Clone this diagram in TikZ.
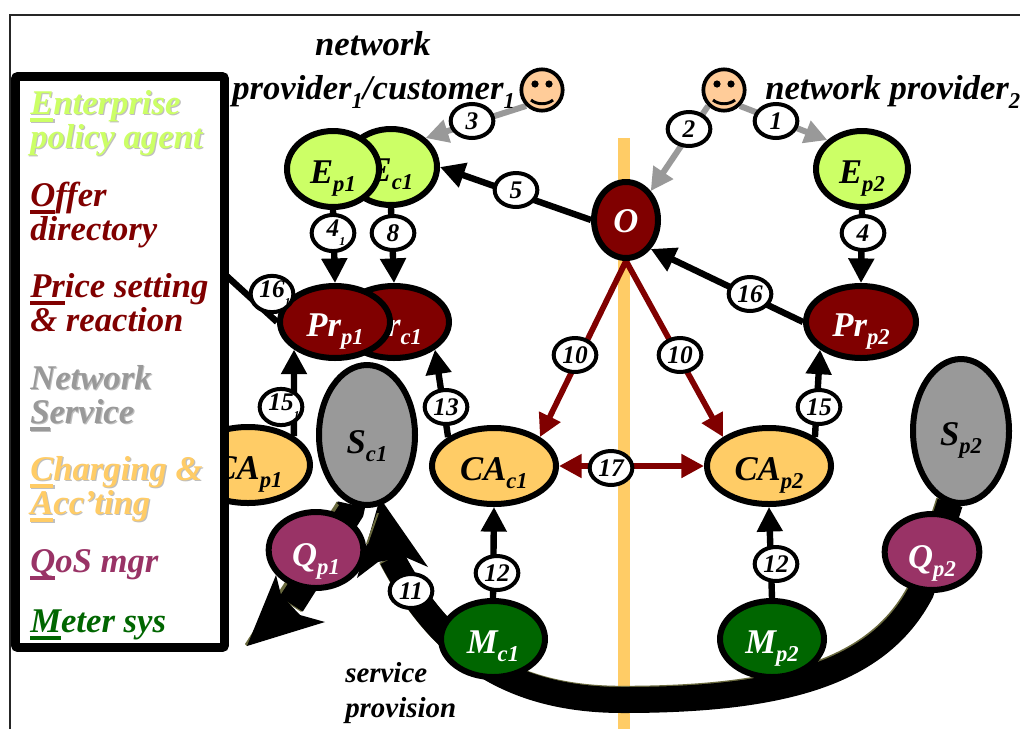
\documentclass[tikz,border=0pt]{standalone}
\usepackage{fontspec}
\setmainfont{Liberation Serif}
\usetikzlibrary{shapes.geometric,arrows.meta}
\pgfdeclarelayer{bg}\pgfdeclarelayer{top}\pgfsetlayers{bg,main,top}
\definecolor{cE}{HTML}{CCFF66}
\definecolor{cP}{HTML}{800000}
\definecolor{cS}{HTML}{999999}
\definecolor{cC}{HTML}{FFCC66}
\definecolor{cQ}{HTML}{993366}
\definecolor{cM}{HTML}{006600}
\definecolor{cOl}{HTML}{6B6B3F}
\definecolor{cSk}{HTML}{FFCC99}
\newcommand\lab[2]{\raisebox{-10.5pt}{#1\raisebox{-6pt}{\fontsize{17}{17}\selectfont #2}}}
\newcommand\tsub[1]{\raisebox{-0.28em}{\fontsize{17}{17}\selectfont #1}}
\newcommand\numsub[2]{#1\rlap{\raisebox{-0.35em}{\fontsize{9}{9}\selectfont #2}}}
\newcommand\ulc[1]{\setbox0=\hbox{#1}\rlap{\rule[-6pt]{\wd0}{3pt}}\box0 }
\newcommand\shad[1]{\rlap{\kern0.9pt\raisebox{-0.9pt}{\color{black!25}#1}}#1}
\tikzset{
  x=0.75pt,y=-0.75pt,
  ell/.style={ellipse,draw=black,line width=4.5pt,inner sep=0pt,outer sep=2.2pt,text height=0pt,text depth=0pt,font=\fontsize{26}{26}\selectfont\bfseries\itshape},
  ne/.style={ell,fill=cE,minimum width=69pt,minimum height=57pt},
  npr/.style={ell,fill=cP,text=white,minimum width=82.5pt,minimum height=54pt},
  no/.style={ell,fill=cP,text=white,minimum width=48pt,minimum height=57pt},
  ns/.style={ell,fill=cS,minimum width=72pt,minimum height=105pt},
  nc/.style={ell,fill=cC,minimum width=93pt,minimum height=57pt},
  nq/.style={ell,fill=cQ,text=white,minimum width=71pt,minimum height=57pt},
  nm/.style={ell,fill=cM,text=white,minimum width=78pt,minimum height=57pt},
  num/.style={ellipse,draw=black,fill=white,line width=3pt,inner sep=0pt,minimum width=32pt,minimum height=25.5pt,font=\fontsize{19}{20}\selectfont\bfseries\itshape},
  smile/.style={circle,draw=black,fill=cSk,line width=2.8pt,inner sep=0pt,minimum size=31pt},
  edgeb/.style={draw=black,line width=4.8pt,-{Triangle[length=18.5pt,width=18.5pt]}},
  edgeg/.style={draw=cS,line width=4.5pt,-{Triangle[length=17pt,width=17pt]}},
  edger/.style={draw=cP,line width=4.3pt,-{Triangle[length=17pt,width=17pt]}},
  edgerr/.style={draw=cP,line width=4.3pt,{Triangle[length=17pt,width=17pt]}-{Triangle[length=17pt,width=17pt]}},
  plain/.style={draw=black,line width=4.8pt},
  fat/.style={draw=black,line width=19.5pt},
  fatb/.style={draw=black,line width=21pt},
  fatol/.style={draw=cOl,line width=19.5pt},
  fatolb/.style={draw=cOl,line width=21pt},
  txt/.style={inner sep=0pt,font=\fontsize{26}{25.5}\selectfont\bfseries\itshape},
  leg/.style={txt,anchor=base west,align=left},
}
\begin{document}
\begin{tikzpicture}
\useasboundingbox (0,0) rectangle (1020,729);
% nodes
\node[ne] (ec1) at (391,167) {\lab{E}{c1}};
\node[ne] (ep1) at (333,169) {\lab{E}{p1}};
\node[ne] (ep2) at (862,169) {\lab{E}{p2}};
\node[npr] (prc1) at (394,322) {\lab{Pr}{c1}};
\node[npr] (prp1) at (335,322) {\lab{Pr}{p1}};
\node[npr] (prp2) at (861,322) {\lab{Pr}{p2}};
\node[no] (o) at (626,220) {\raisebox{-9pt}{O}};
\node[nc] (cap1) at (248,465) {\lab{CA}{p1}};
\node[nc] (cac1) at (494,466) {\lab{CA}{c1}};
\node[nc] (cap2) at (769,466) {\lab{CA}{p2}};
\node[ns] (sc1) at (367,435) {\raisebox{-3.5pt}{\lab{S}{c1}}};
\node[ns,minimum height=108pt] (sp2) at (961,431) {\lab{S}{p2}};
\node[nq] (qp1) at (316,550) {\raisebox{-2pt}{\lab{Q}{p1}}};
\node[nq] (qp2) at (932,552) {\raisebox{-2pt}{\lab{Q}{p2}}};
\node[nm] (mc1) at (493,639) {\lab{M}{c1}};
\node[nm] (mp2) at (772,639) {\lab{M}{p2}};
% smileys
\node[smile] (sm1) at (542,90) {};
\node[smile] (sm2) at (724,90) {};
\foreach \s in {sm1,sm2}{
  \fill[black] ([shift={(-7,-6)}]\s.center) circle[radius=2.7pt];
  \fill[black] ([shift={(7,-6)}]\s.center) circle[radius=2.7pt];
  \draw[black,line width=2.2pt] ([shift={(-11,10)}]\s.center) .. controls ([shift={(-5,15)}]\s.center) and ([shift={(5,15)}]\s.center) .. ([shift={(11,10)}]\s.center);
}
% number labels
\node[num] (n3) at (472,121) {3};
\node[num] (n5) at (516,190) {5};
\node[num] (n4a) at (333,233) {\numsub{4}{1}};
\node[num] (n8) at (393,233) {8};
\node[num] (n1) at (776,121) {1};
\node[num] (n2) at (689,129) {2};
\node[num] (n16b) at (750,294) {16};
\node[num] (n4b) at (863,233) {4};
\node[num] (n16a) at (272,294) {\numsub{16}{1}};
\node[num] (n15a) at (281,407) {\numsub{15}{1}};
\node[num] (n13) at (446,407) {13};
\node[num] (n11) at (411,591) {11};
\node[num] (n12a) at (497,573) {12};
\node[num] (n12b) at (776,564) {12};
\node[num] (n15b) at (819,407) {15};
\node[num] (n17) at (611,468) {17};
\node[num] (n10a) at (575,355) {10};
\node[num] (n10b) at (680,355) {10};
% texts
\node[txt,anchor=base] (t1) at (373,55) {network};
\node[txt,anchor=base west] (t2) at (232,99) {provider\tsub{1}/customer\tsub{1}};
\node[txt,anchor=base west] (t3) at (765,99) {network provider\tsub{2}};
\node[inner sep=0pt,anchor=base west,align=left,font=\fontsize{21.7}{26}\selectfont\bfseries\itshape] (t4) at (345,717) {service\\provision};
% coordinates
\coordinate (hid) at (150,206);
\coordinate (a1) at (350,511);
\coordinate (b1) at (291,604);
\coordinate (b2) at (392,558);
\coordinate (k1) at (921,592);
\coordinate (k2) at (623,700);
% edges
\begin{pgfonlayer}{bg}
\fill[white] (0,0) rectangle (1020,729);
\fill[cC] (618,138) rectangle (630,729);
\draw[edgeg] (sm1.south west) -- (ec1.north east);
\draw[edgeg] (sm2.south east) -- (ep2.north west);
\draw[edgeg] (sm2.south west) -- (o.north east);
\draw[edgeb] (o.west) -- (ec1.east);
\draw[edgeb] (prp2.west) -- (o.south east);
\draw[edgeb] (ep1.south) -- (prp1.north);
\draw[edgeb] (ec1.south) -- (prc1.north);
\draw[edgeb] (ep2.south) -- (prp2.north);
\draw[edgeb] (cap1.north east) -- (prp1.south west);
\draw[edgeb] (cap2.north east) -- (prp2.south west);
\draw[edgeb] (cac1.north west) -- (prc1.south east);
\draw[edgeb] (mc1.north) -- (cac1.south);
\draw[edgeb] (mp2.north) -- (cap2.south);
\draw[edger] (o.south) -- (cac1.north east);
\draw[edger] (o.south) -- (cap2.north west);
\draw[edgerr] (cac1.east) -- (cap2.west);
\draw[plain] (prp1.west) -- (hid);
% fat arrow to lower left
\draw[fatolb,transform canvas={xshift=-1.2pt,yshift=-0.3pt}] (sc1) -- (a1) -- (b1);
\draw[fatb] (sc1) -- (a1) -- (b1);
\fill[cOl] (336,503) -- (245,644) -- (247,646) -- (339,505) -- cycle;
\fill[black] (247,646) -- (276,575) -- (281,595) -- (300,615) -- (325,622) -- cycle;
% fat arrow 11
\draw[fatol,transform canvas={xshift=-0.9pt,yshift=0.9pt}] (sp2) -- (950,503) -- (k1) .. controls (880,670) and (790,700) .. (k2) .. controls (520,700) and (445,660) .. (b2);
\draw[fat] (sp2) -- (950,503) -- (k1) .. controls (880,670) and (790,700) .. (k2) .. controls (520,700) and (445,660) .. (b2);
\fill[black] (380,498) -- (428,567) -- (405,557) -- (378,562) -- (357,578) -- cycle;
\fill[cOl] (377,513) -- (366,544) -- (368,544) -- (379,513) -- cycle;
\end{pgfonlayer}
\draw[black!85,line width=1.1pt] (10,729) -- (10,15) -- (1020,15);
% legend
\begin{pgfonlayer}{top}
\node[draw=black,fill=white,line width=6.4pt,rounded corners=1.5pt,minimum width=156.75pt,minimum height=428.25pt,inner sep=0pt] (legend) at (120,362) {};
\node[leg,text=cE] (l1) at (30,148) {\shad{\ulc{E}nterprise}\\\shad{policy agent}};
\node[leg,text=cP] (l2) at (30,240) {\ulc{O}ffer\\directory};
\node[leg,text=cP] (l3) at (30,331) {\ulc{Pr}ice setting\\\& reaction};
\node[leg,text=cS] (l4) at (30,423) {\shad{Network}\\\shad{\ulc{S}ervice}};
\node[leg,text=cC] (l5) at (30,514) {\shad{\ulc{C}harging \&}\\\shad{\ulc{A}cc’ting}};
\node[leg,text=cQ] (l6) at (30,572) {\ulc{Q}oS mgr};
\node[leg,text=cM] (l7) at (30,632) {\ulc{M}eter sys};
\end{pgfonlayer}
\end{tikzpicture}
\end{document}
